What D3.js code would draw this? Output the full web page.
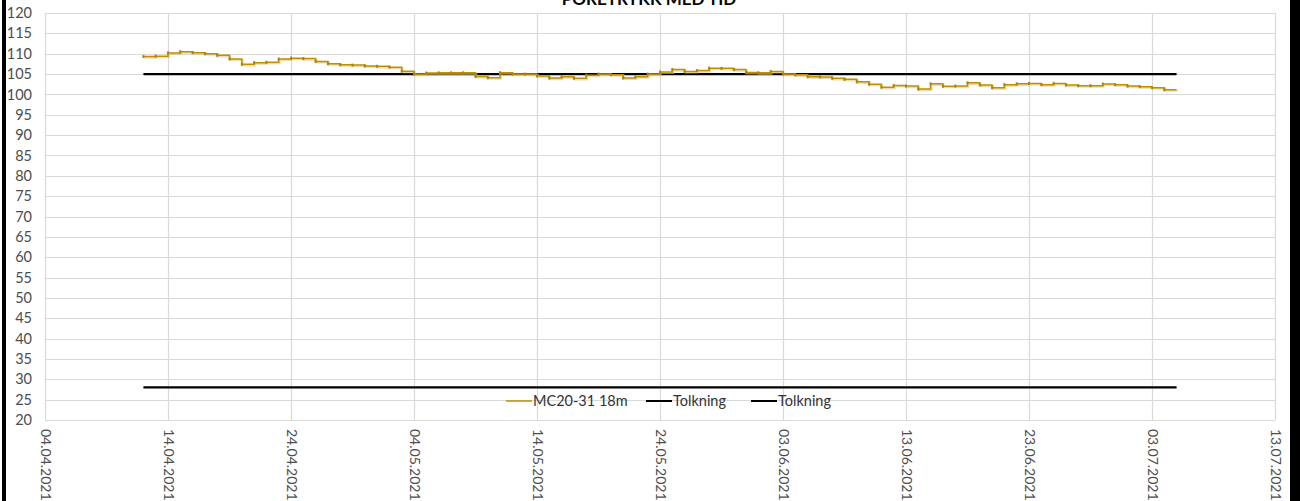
<!DOCTYPE html>
<html>
<head>
<meta charset="utf-8">
<script src="https://cdn.jsdelivr.net/npm/d3@7"></script>
<style>
  html, body { margin: 0; padding: 0; background: #fff; }
  svg { display: block; }
  text { font-family: Lato, "Open Sans", sans-serif; }
</style>
</head>
<body>
<svg id="chart" width="1300" height="501"></svg>
<script>
// Pore pressure readings, one value per day (kPa)
const seriesName = "MC20-31 18m";
const firstDay = "2021-04-12";
const pressure = [
  109.3, 109.4, 110.2, 110.5, 110.25, 110.0, 109.6, 108.7, 107.4, 107.8,
  107.9, 108.7, 108.9, 108.8, 108.1, 107.55, 107.3, 107.2, 107.0, 106.9,
  106.7, 105.7, 105.0, 105.25, 105.3, 105.3, 105.3, 104.4, 104.1, 105.35,
  105.0, 105.0, 104.55, 104.0, 104.35, 103.95, 104.7, 105.0, 104.85, 104.05,
  104.35, 105.0, 105.5, 106.1, 105.65, 105.85, 106.45, 106.4, 106.1, 105.4,
  105.3, 105.65, 105.0, 104.8, 104.35, 104.3, 103.95, 103.7, 103.1, 102.5,
  101.75, 102.2, 102.05, 101.3, 102.6, 102.0, 102.05, 102.85, 102.3, 101.65,
  102.4, 102.6, 102.7, 102.4, 102.7, 102.3, 102.15, 102.15, 102.55, 102.4,
  102.05, 101.9, 101.65, 101.15
];
const lastDay = "2021-07-05";

// Interpretation levels ("Tolkning")
const tolkningNames = ["Tolkning", "Tolkning"];
const tolkningLevels = [105, 28];
const tolkningStart = "2021-04-12";
const tolkningEnd = "2021-07-05";

// Axes
const xDomain = ["2021-04-04", "2021-07-13"];
const xTickLabels = ["04.04.2021", "14.04.2021", "24.04.2021", "04.05.2021", "14.05.2021",
  "24.05.2021", "03.06.2021", "13.06.2021", "23.06.2021", "03.07.2021", "13.07.2021"];
const yDomain = [20, 120];
const yTicks = [20, 25, 30, 35, 40, 45, 50, 55, 60, 65, 70, 75, 80, 85, 90, 95, 100, 105, 110, 115, 120];

const title = "PORETRYKK MED TID";

const parse = d3.timeParse("%Y-%m-%d");
const fmt = d3.timeFormat("%d.%m.%Y");

const svg = d3.select("#chart");
const W = 1300, H = 501;
const plot = { left: 45, right: 1275, top: 13, bottom: 420 };

const x = d3.scaleTime().domain(xDomain.map(parse)).range([plot.left, plot.right]);
const y = d3.scaleLinear().domain(yDomain).range([plot.bottom, plot.top]);

// Chart-area border (left and right edges)
svg.append("rect").attr("x", 2).attr("y", -5).attr("width", 4).attr("height", H + 10).attr("fill", "#000");
svg.append("rect").attr("x", 1290).attr("y", -5).attr("width", 10).attr("height", H + 10).attr("fill", "#000");

// Title (sits at the very top edge of the chart area)
svg.append("text")
  .attr("x", 649).attr("y", 5)
  .attr("text-anchor", "middle")
  .attr("font-size", 17).attr("font-weight", "bold")
  .attr("fill", "#000")
  .text(title);

// Grid
const tickDates = xTickLabels.map(s => d3.timeParse("%d.%m.%Y")(s));
const grid = svg.append("g").attr("stroke", "#d9d9d9").attr("stroke-width", 1.2);
grid.selectAll("line.h").data(yTicks).join("line")
  .attr("x1", plot.left).attr("x2", plot.right)
  .attr("y1", d => Math.round(y(d)) + 0.5).attr("y2", d => Math.round(y(d)) + 0.5);
grid.selectAll("line.v").data(tickDates).join("line")
  .attr("y1", plot.top).attr("y2", plot.bottom)
  .attr("x1", d => Math.round(x(d)) + 0.5).attr("x2", d => Math.round(x(d)) + 0.5);

// Y axis labels
const yAxis = d3.axisLeft(y).tickValues(yTicks).tickSize(0).tickPadding(0);
const gy = svg.append("g").attr("transform", `translate(${plot.left - 13},0)`).call(yAxis);
gy.select(".domain").remove();
gy.selectAll("text").attr("font-size", 14.5).attr("fill", "#4d4d4d")
  .attr("font-family", "Lato, 'Open Sans', sans-serif");

// X axis labels, rotated to read downward
const xAxis = d3.axisBottom(x).tickValues(tickDates).tickFormat(fmt).tickSize(0);
const gx = svg.append("g").attr("transform", `translate(0,${plot.bottom})`).call(xAxis);
gx.select(".domain").remove();
gx.selectAll("text")
  .attr("font-size", 14).attr("fill", "#4d4d4d")
  .attr("font-family", "Lato, 'Open Sans', sans-serif")
  .attr("text-anchor", "start")
  .attr("dy", "0.35em")
  .attr("y", 0)
  .attr("transform", "translate(0,9) rotate(90)");

// Series data
const days = d3.timeDay.range(parse(firstDay), d3.timeDay.offset(parse(firstDay), pressure.length));
const pts = days.map((d, i) => ({ date: d, value: pressure[i] }));
const stepPts = pts.concat([{ date: parse(lastDay), value: pressure[pressure.length - 1] }]);

const stepLine = d3.line().x(d => x(d.date)).y(d => y(d.value)).curve(d3.curveStepAfter);

// Interpretation lines
const tolk = svg.append("g");
tolkningLevels.forEach(v => {
  tolk.append("line")
    .attr("x1", x(parse(tolkningStart))).attr("x2", x(parse(tolkningEnd)))
    .attr("y1", y(v)).attr("y2", y(v))
    .attr("stroke", "#000").attr("stroke-width", 2.2);
});

// Soft shadow under the pressure line
svg.append("path").datum(stepPts)
  .attr("d", stepLine)
  .attr("transform", "translate(0.8,1)")
  .attr("fill", "none").attr("stroke", "#dcc47c").attr("stroke-width", 2.2).attr("opacity", 0.6);

svg.append("path").datum(stepPts)
  .attr("d", stepLine)
  .attr("fill", "none").attr("stroke", "#bf9000").attr("stroke-width", 1.5);

// Small point markers
svg.append("g").selectAll("rect").data(pts).join("rect")
  .attr("x", d => x(d.date) - 1).attr("y", d => y(d.value) - 1.5)
  .attr("width", 2).attr("height", 3).attr("fill", "#b08400");

// Legend
const legendItems = [
  { name: seriesName, color: "#bf9000", width: 1.5, x: 506 },
  { name: tolkningNames[0], color: "#000", width: 2, x: 646 },
  { name: tolkningNames[1], color: "#000", width: 2, x: 751 }
];
const lg = svg.append("g");
legendItems.forEach(it => {
  lg.append("line").attr("x1", it.x).attr("x2", it.x + 26).attr("y1", 401).attr("y2", 401)
    .attr("stroke", it.color).attr("stroke-width", it.width);
  lg.append("text").attr("x", it.x + 27).attr("y", 406)
    .attr("font-size", 14.5).attr("fill", "#333").text(it.name);
});
</script>
</body>
</html>
